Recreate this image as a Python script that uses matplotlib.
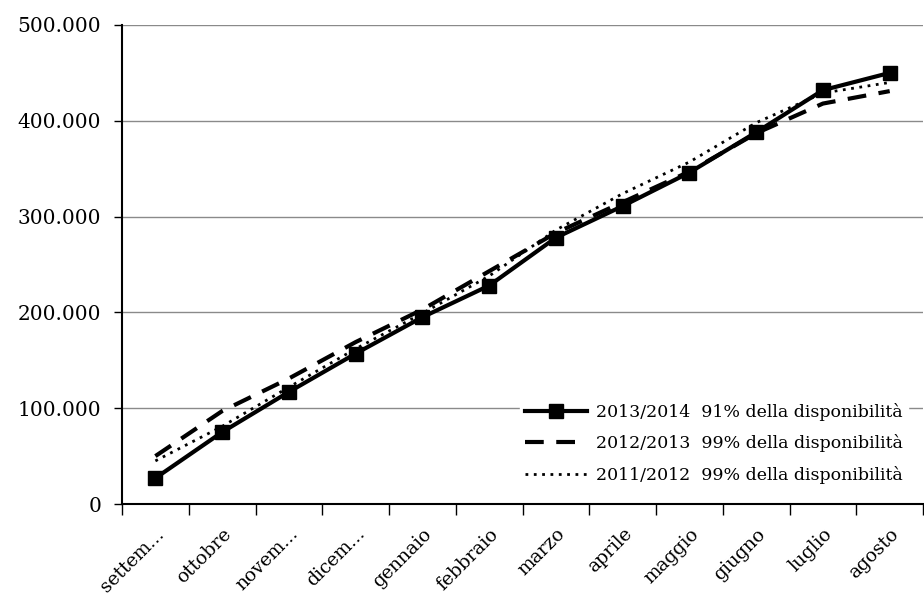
import matplotlib
matplotlib.use("Agg")
import matplotlib.pyplot as plt
from matplotlib.ticker import FuncFormatter, FixedLocator
import numpy as np

months = ["settem...", "ottobre", "novem...", "dicem...", "gennaio", "febbraio",
          "marzo", "aprile", "maggio", "giugno", "luglio", "agosto"]
s2013_2014 = [27000, 75000, 117000, 157000, 195000, 228000, 278000, 311000, 346000, 388000, 432000, 450000]
s2012_2013 = [50000, 97000, 131000, 169000, 203000, 243000, 283000, 315000, 347000, 387000, 418000, 431000]
s2011_2012 = [45000, 81000, 122000, 162000, 199000, 238000, 286000, 324000, 357000, 398000, 429000, 440000]
labels = ["2013/2014  91% della disponibilità",
          "2012/2013  99% della disponibilità",
          "2011/2012  99% della disponibilità"]
yticks = [0, 100000, 200000, 300000, 400000, 500000]

plt.rcParams['font.family'] = ['DejaVu Serif', 'Liberation Serif']

fig = plt.figure(figsize=(9.24, 5.98), dpi=100)
ax = fig.add_axes([122/924, 1-504/598, 1-122/924 - 0.001, (504-25)/598])

x = np.arange(len(months))
ax.plot(x, s2013_2014, color='black', lw=3, marker='s', ms=10, label=labels[0], zorder=5)
ax.plot(x, s2012_2013, color='black', lw=3, ls=(0, (4.5, 3)), label=labels[1], zorder=4)
ax.plot(x, s2011_2012, color='black', lw=2, ls=(0, (1, 2)), label=labels[2], zorder=3)

ax.set_xlim(-0.5, len(months) - 0.5)
ax.set_ylim(0, 500000)
ax.set_yticks(yticks)
ax.yaxis.set_major_formatter(FuncFormatter(lambda v, p: "0" if v == 0 else f"{int(v):,}".replace(",", ".")))
ax.yaxis.grid(True, color='#8a8a8a', lw=1)
ax.set_axisbelow(True)

ax.set_xticks(x)
ax.set_xticklabels(months, rotation=45, ha='right', va='top', rotation_mode='anchor', fontsize=13.5)
ax.xaxis.set_minor_locator(FixedLocator(np.arange(-0.5, len(months), 1.0)))
ax.tick_params(axis='x', which='major', length=0, pad=15)
ax.tick_params(axis='x', which='minor', length=8, width=1, direction='out', color='black')
ax.tick_params(axis='y', length=6, width=1, direction='out', labelsize=14.5, pad=9)

for sp in ['top', 'right']:
    ax.spines[sp].set_visible(False)
ax.spines['left'].set_linewidth(1.5)
ax.spines['bottom'].set_linewidth(1.5)

leg = ax.legend(loc='lower right', bbox_to_anchor=(0.992, 0.012), frameon=True, fontsize=12.5,
                handlelength=3.6, handletextpad=0.5, labelspacing=0.8, borderpad=0.3)
leg.get_frame().set_edgecolor('white')
leg.get_frame().set_facecolor('white')
leg.get_frame().set_alpha(1)

fig.savefig("out.png", dpi=100)
